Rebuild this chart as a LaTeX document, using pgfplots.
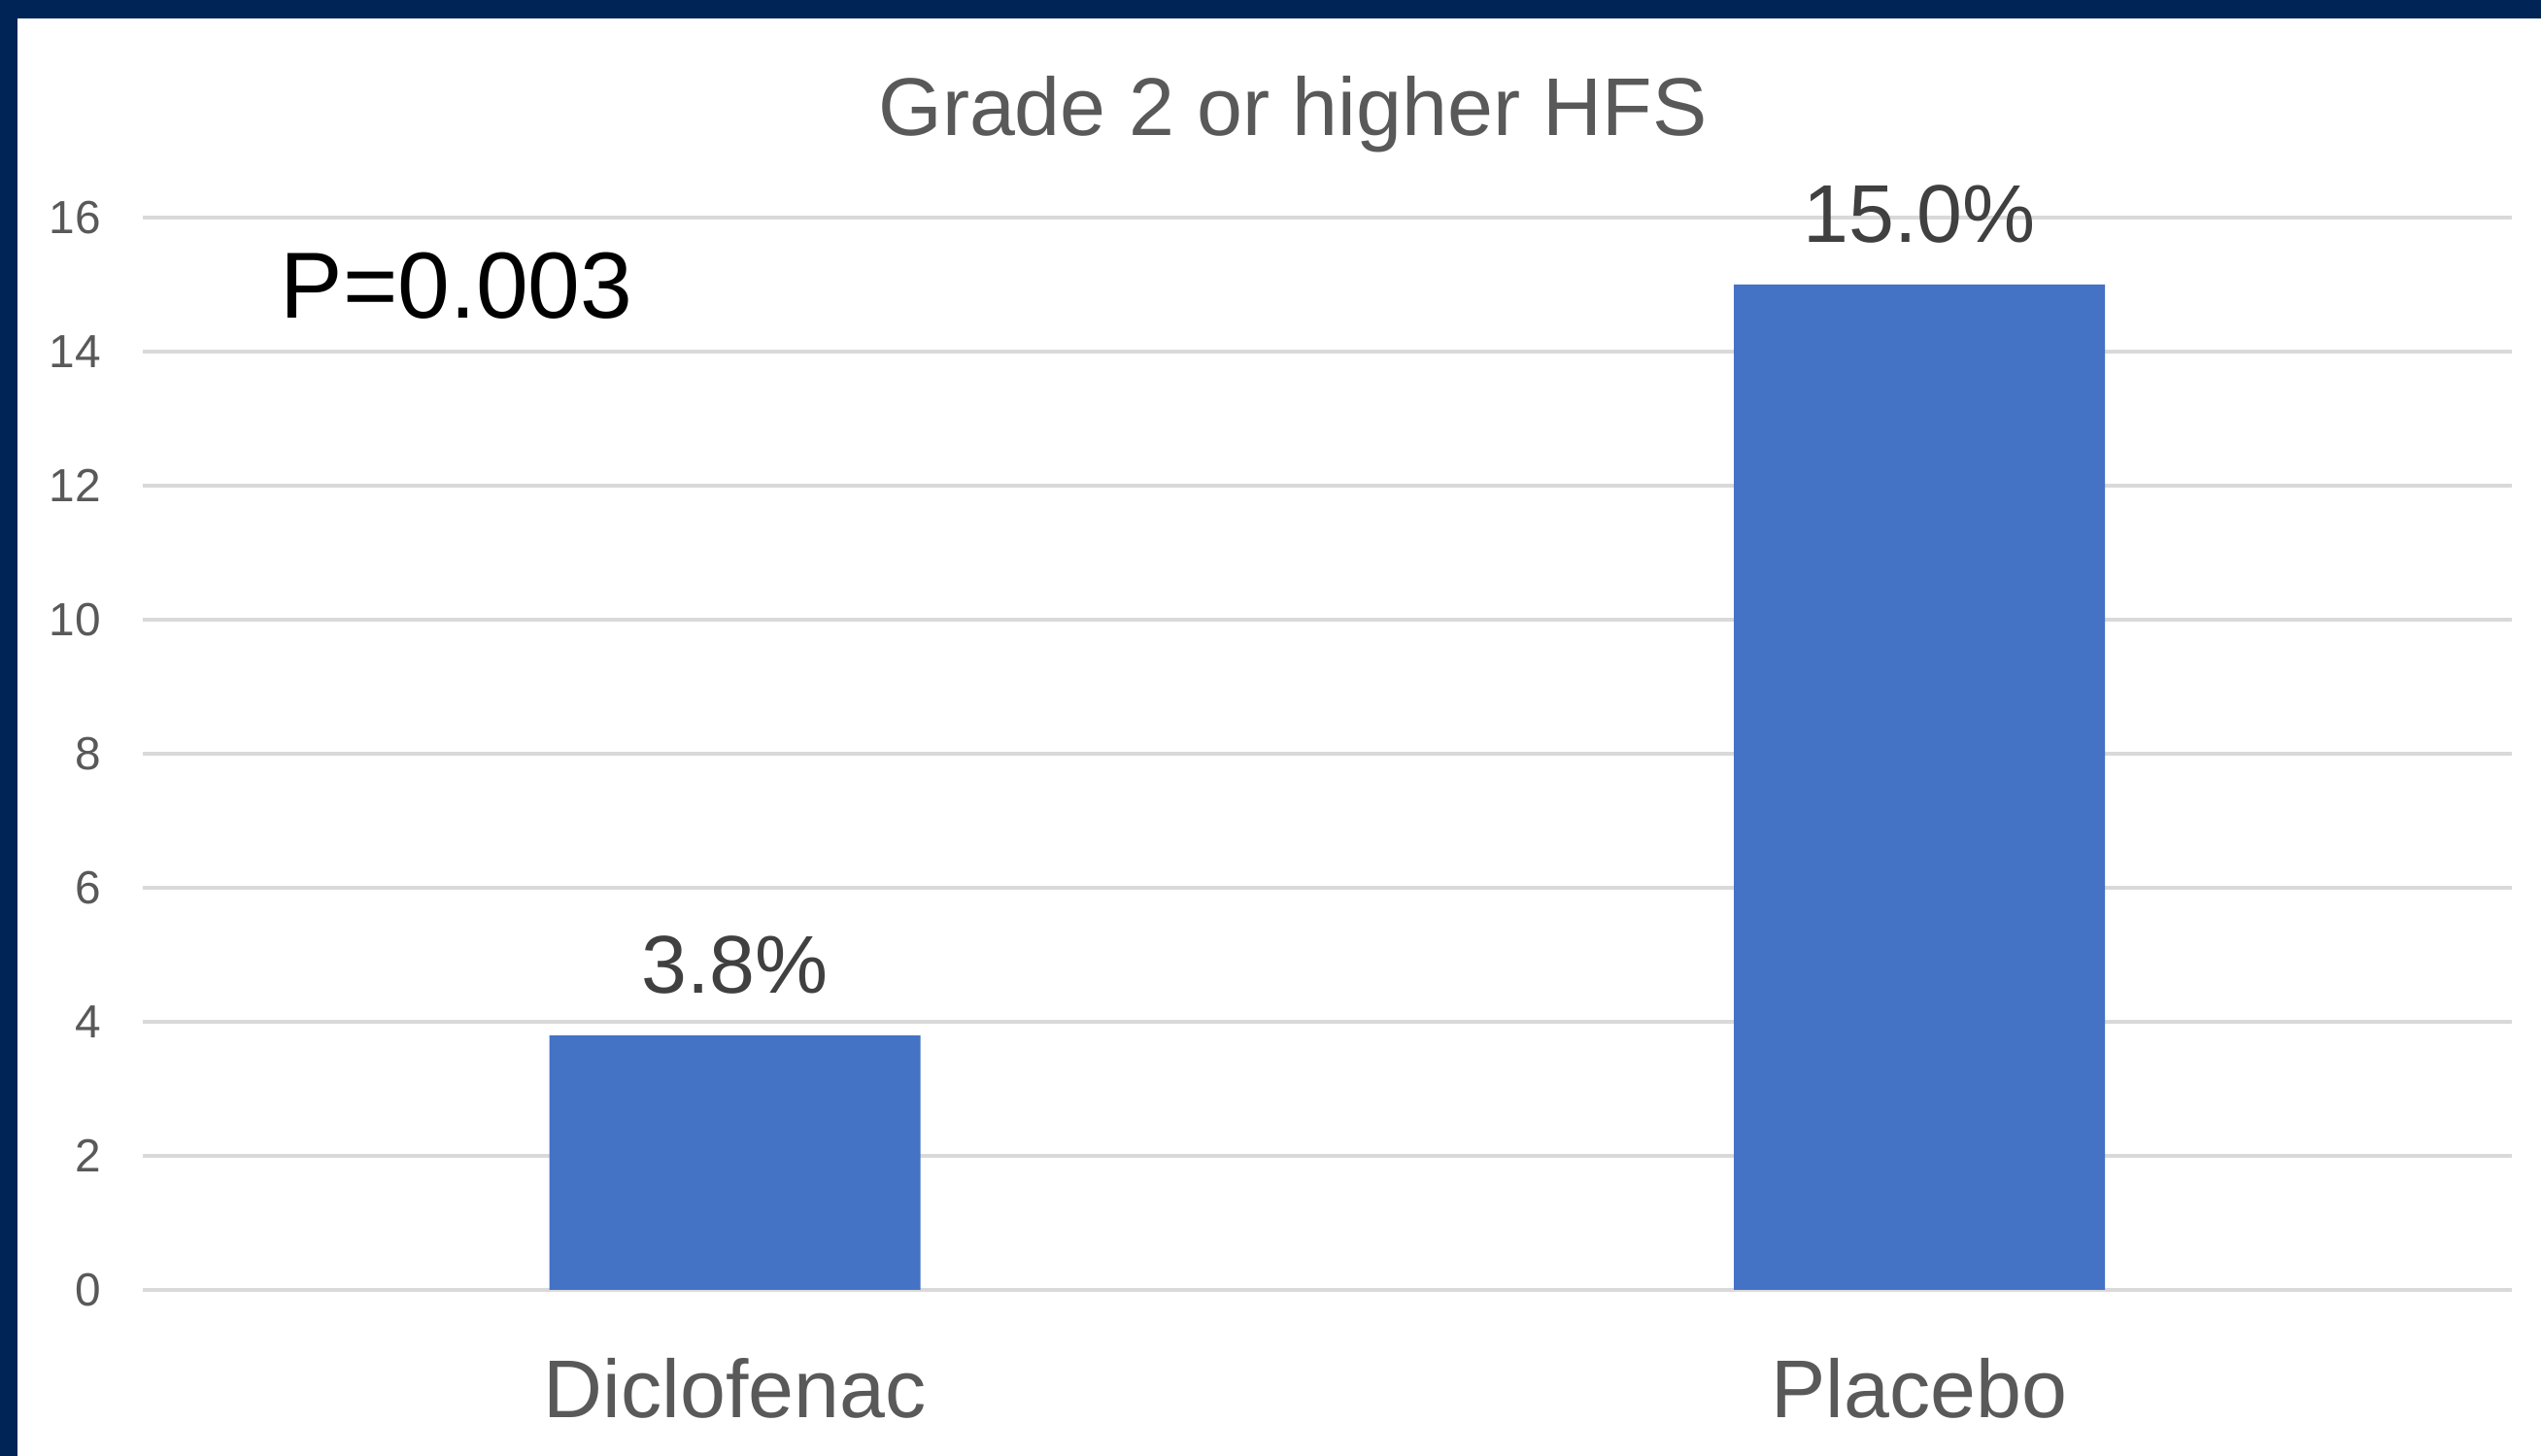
\documentclass[border=0pt]{standalone}
\usepackage{pgfplots}
\pgfplotsset{compat=1.18}
\usepackage{fontspec}
\setmainfont{Liberation Sans}
\definecolor{navy}{RGB}{1,36,86}
\definecolor{barblue}{HTML}{4472C4}
\definecolor{gridgray}{HTML}{D9D9D9}
\definecolor{labelgray}{HTML}{595959}
\definecolor{valuegray}{HTML}{404040}

\begin{document}
\begin{tikzpicture}[x=1mm,y=1mm]
% slide frame
\path[use as bounding box, fill=white] (0,0) rectangle (261.6,149.9);
\fill[navy] (0,148.0) rectangle (261.6,149.9);
\fill[navy] (0,0) rectangle (1.75,149.9);
\begin{axis}[
  at={(14.68mm,17.1mm)}, anchor=south west,
  scale only axis, width=243.9mm, height=110.4mm,
  xmin=-0.5, xmax=1.5, ymin=0, ymax=16,
  ybar, bar width=38.2mm, bar shift=0pt,
  xtick={0,1}, xticklabels={Diclofenac,Placebo},
  ytick={0,2,...,16},
  ymajorgrids, major grid style={gridgray, line width=0.4mm},
  axis line style={draw=none},
  major tick length=0pt,
  tick style={draw=none},
  xticklabel style={anchor=base, yshift=-13.2mm, font=\fontsize{24}{28}\selectfont, text=labelgray, inner sep=0pt},
  yticklabel style={anchor=east, inner sep=0pt, xshift=-4.2mm, font=\fontsize{13.6}{16}\selectfont, text=labelgray},
  /pgf/number format/assume math mode=true,
  nodes near coords={\pgfmathprintnumber[fixed,fixed zerofill,precision=1]{\pgfplotspointmeta}\%},
  nodes near coords style={anchor=base, yshift=4.3mm, font=\fontsize{24}{28}\selectfont, text=valuegray, inner sep=0pt},
  clip=false,
]
\addplot[fill=barblue, draw=none] coordinates {(0,3.8) (1,15.0)};
\end{axis}
\node[anchor=base, text=labelgray, font=\fontsize{24}{28}\selectfont, inner sep=0pt] at (133.1,135.9) {Grade 2 or higher HFS};
\node[anchor=base west, font=\fontsize{27.5}{32}\selectfont, inner sep=0pt] at (28.8,117.1) {P=0.003};
\end{tikzpicture}
\end{document}
